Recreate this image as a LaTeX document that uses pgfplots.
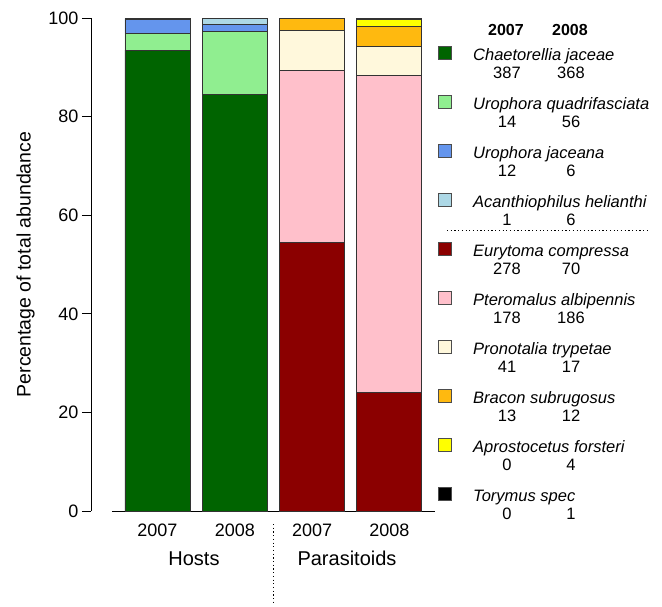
\documentclass[border=0pt]{standalone}
\usepackage{pgfplots}
\pgfplotsset{compat=1.18}
\usepackage{fontspec}
\setmainfont{Liberation Sans}
\definecolor{cChae}{HTML}{006400}
\definecolor{cUq}{HTML}{90EE90}
\definecolor{cUj}{HTML}{6495ED}
\definecolor{cAc}{HTML}{ADD8E6}
\definecolor{cEu}{HTML}{8B0000}
\definecolor{cPt}{HTML}{FFC0CB}
\definecolor{cPr}{HTML}{FFF8DC}
\definecolor{cBr}{HTML}{FFB90F}
\definecolor{cAp}{HTML}{FFFF00}
\definecolor{cTo}{HTML}{000000}
\begin{document}
\begin{tikzpicture}[x=1pt,y=1pt]
\useasboundingbox (0,0) rectangle (662,-606);
\begin{axis}[
  scale only axis, width=344pt, height=493pt,
  at={(91pt,-511pt)}, anchor=south west,
  xmin=-0.86, xmax=3.59, ymin=0, ymax=100,
  axis y line*=left, axis x line*=bottom,
  x axis line style={draw=none},
  xtick={0,1,2,3}, xticklabels={2007,2008,2007,2008},
  x tick style={draw=none},
  xticklabel style={anchor=base, yshift=-16pt},
  ytick={0,20,40,60,80,100},
  tick align=outside, major tick length=9pt,
  y tick style={black, line width=0.8pt},
  y axis line style={black, line width=0.8pt, -},
  /pgf/number format/assume math mode=true,
  tick label style={font=\fontsize{18}{20}\selectfont},
  ylabel={Percentage of total abundance},
  ylabel style={font=\fontsize{19.5}{22}\selectfont, at={(axis description cs:-0.19,0.5)}, anchor=center},
  ybar stacked, bar width=65pt, clip=false,
  every axis plot/.append style={draw=black!80, line width=0.9pt},
]
\addplot[fill=cChae] coordinates {(0,93.478) (1,84.404) (2,0) (3,0)};
\addplot[fill=cUq] coordinates {(0,3.382) (1,12.844) (2,0) (3,0)};
\addplot[fill=cUj] coordinates {(0,2.899) (1,1.376) (2,0) (3,0)};
\addplot[fill=cAc] coordinates {(0,0.242) (1,1.376) (2,0) (3,0)};
\addplot[fill=cEu] coordinates {(0,0) (1,0) (2,54.510) (3,24.138)};
\addplot[fill=cPt] coordinates {(0,0) (1,0) (2,34.902) (3,64.138)};
\addplot[fill=cPr] coordinates {(0,0) (1,0) (2,8.039) (3,5.862)};
\addplot[fill=cBr] coordinates {(0,0) (1,0) (2,2.549) (3,4.138)};
\addplot[fill=cAp] coordinates {(0,0) (1,0) (2,0) (3,1.379)};
\addplot[fill=cTo] coordinates {(0,0) (1,0) (2,0) (3,0.345)};
\draw[black, line width=0.8pt] (axis cs:-0.59,0) -- (axis cs:3.59,0);
\end{axis}
% group labels
\node[anchor=base, font=\fontsize{20}{22}\selectfont] at (194,-565) {Hosts};
\node[anchor=base, font=\fontsize{20}{22}\selectfont] at (347,-565) {Parasitoids};
\draw[black, line width=0.7pt, dash pattern=on 1.2pt off 2.5pt] (273,-524) -- (273,-604);
% legend
\node[anchor=base, font=\bfseries\fontsize{16}{18}\selectfont] at (506,-35) {2007};
\node[anchor=base, font=\bfseries\fontsize{16}{18}\selectfont] at (570,-35) {2008};
\foreach \i/\c/\n/\a/\b in {
  0/cChae/Chaetorellia jaceae/387/368,
  1/cUq/Urophora quadrifasciata/14/56,
  2/cUj/Urophora jaceana/12/6,
  3/cAc/Acanthiophilus helianthi/1/6,
  4/cEu/Eurytoma compressa/278/70,
  5/cPt/Pteromalus albipennis/178/186,
  6/cPr/Pronotalia trypetae/41/17,
  7/cBr/Bracon subrugosus/13/12,
  8/cAp/Aprostocetus forsteri/0/4,
  9/cTo/Torymus spec/0/1}{
  \pgfmathsetmacro{\yy}{-(53+49*\i)}
  \filldraw[fill=\c, draw=black!70, line width=0.7pt] (438,\yy-6.5) rectangle (451,\yy+6.5);
  \node[anchor=base west, inner sep=0pt, font=\itshape\fontsize{16.5}{18}\selectfont] at (473,\yy-7) {\n};
  \node[anchor=base, inner sep=0pt, font=\fontsize{16.5}{18}\selectfont] at (507,\yy-25) {\a};
  \node[anchor=base, inner sep=0pt, font=\fontsize{16.5}{18}\selectfont] at (571,\yy-25) {\b};
}
\draw[black, line width=0.7pt, dash pattern=on 1.2pt off 2.5pt] (447,-230) -- (648,-230);
\end{tikzpicture}
\end{document}
